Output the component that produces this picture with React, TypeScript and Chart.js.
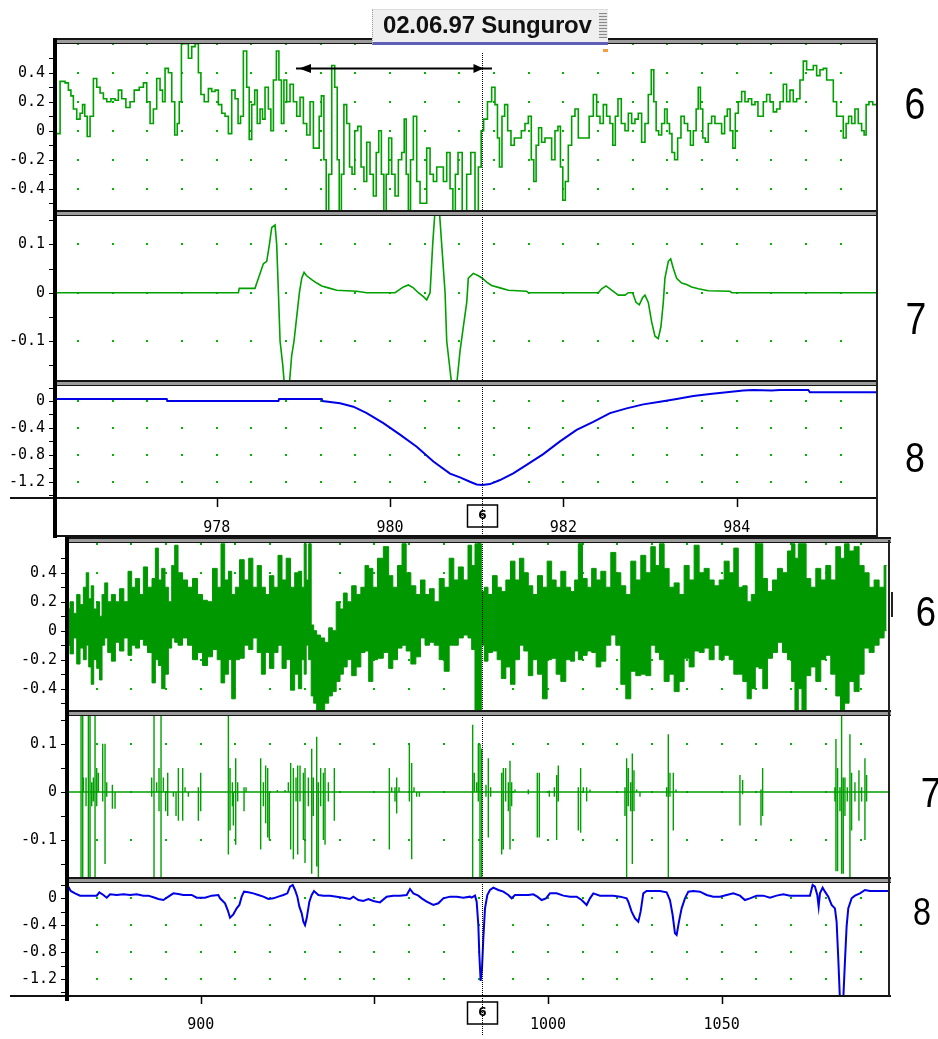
import React, { useEffect, useRef } from 'react';
import { Chart, registerables } from 'chart.js';

Chart.register(...registerables);

const W = 938;
const GREEN = '#00a000';
const NOISE_GREEN = '#009800';
const BLUE = '#0000e6';
const DOT = '#00b400';

// ---------------- DATA ----------------
// Top group: time axis (s), 976.16 .. 985.62
const topXTicks = [978, 980, 982, 984];
const topDotX = [976.4, 976.8, 977.2, 977.6, 978.0, 978.4, 978.8, 979.2, 979.6, 980.0, 980.4, 980.8, 981.2, 981.6, 982.0, 982.4, 982.8, 983.2, 983.6, 984.0, 984.4, 984.8, 985.2];
const cursorTop = 981.06;
const arrowSpan = [978.915, 981.176];
const arrowLevel = 0.43;

// trace 6 (zoomed)
const trace6Zoom: [number, number][] = [
  [976.154, -0.02], [976.231, 0.34], [976.269, 0.33], [976.308, 0.28], [976.327, 0.24], [976.365, 0.15], [976.404, 0.08], [976.442, 0.12],
  [976.462, 0.18], [976.492, 0.1], [976.519, -0.04], [976.558, 0.1], [976.596, 0.36], [976.635, 0.3], [976.673, 0.26], [976.712, 0.22],
  [976.75, 0.2], [976.808, 0.22], [976.846, 0.21], [976.885, 0.28], [976.923, 0.22], [976.981, 0.16], [977.019, 0.2], [977.077, 0.28],
  [977.135, 0.3], [977.173, 0.33], [977.212, 0.2], [977.25, 0.05], [977.288, 0.15], [977.327, 0.36], [977.365, 0.28], [977.385, 0.2],
  [977.423, 0.43], [977.462, 0.4], [977.5, 0.2], [977.531, -0.03], [977.558, 0.05], [977.577, 0.2], [977.608, 0.6], [977.654, 0.6],
  [977.692, 0.5], [977.731, 0.58], [977.769, 0.6], [977.808, 0.4], [977.827, 0.25], [977.885, 0.2], [977.923, 0.29], [977.962, 0.27],
  [978.0, 0.28], [978.038, 0.18], [978.077, 0.12], [978.115, 0.1], [978.154, -0.02], [978.192, 0.28], [978.231, 0.22], [978.262, 0.05],
  [978.288, 0.1], [978.327, 0.55], [978.365, 0.3], [978.385, -0.06], [978.423, 0.18], [978.454, 0.28], [978.481, 0.05], [978.519, 0.15],
  [978.538, 0.08], [978.577, 0.3], [978.615, 0.15], [978.635, 0.0], [978.673, 0.35], [978.704, 0.55], [978.731, 0.35], [978.762, 0.05],
  [978.788, 0.35], [978.827, 0.2], [978.865, 0.32], [978.904, 0.2], [978.942, 0.1], [978.981, 0.23], [979.019, 0.05], [979.058, -0.03],
  [979.096, 0.2], [979.135, -0.12], [979.173, -0.12], [979.192, 0.1], [979.223, 0.24], [979.25, -0.2], [979.277, -0.56], [979.308, -0.3],
  [979.346, 0.45], [979.377, 0.3], [979.404, -0.2], [979.423, -0.56], [979.454, -0.3], [979.481, 0.18], [979.519, 0.05], [979.546, -0.25],
  [979.577, -0.3], [979.608, 0.0], [979.646, 0.03], [979.685, -0.25], [979.712, -0.35], [979.75, -0.08], [979.788, -0.3], [979.827, -0.45],
  [979.854, -0.15], [979.885, 0.0], [979.915, -0.3], [979.942, -0.56], [979.969, -0.3], [980.0, -0.05], [980.038, -0.3], [980.077, -0.45],
  [980.115, -0.2], [980.154, -0.15], [980.173, 0.08], [980.2, -0.3], [980.223, -0.55], [980.25, -0.2], [980.288, 0.1], [980.327, -0.35],
  [980.365, -0.5], [980.404, -0.5], [980.442, -0.12], [980.481, -0.3], [980.519, -0.35], [980.558, -0.25], [980.596, -0.25], [980.635, -0.35],
  [980.673, -0.15], [980.712, -0.4], [980.738, -0.56], [980.769, -0.3], [980.8, -0.15], [980.865, -0.56], [980.903, -0.3], [980.961, -0.15],
  [981.0, -0.56], [981.038, -0.25], [981.065, 0.0], [981.095, 0.08], [981.153, 0.2], [981.192, 0.3], [981.23, 0.18], [981.249, -0.05],
  [981.276, -0.25], [981.307, 0.1], [981.338, 0.18], [981.376, 0.0], [981.415, -0.1], [981.453, -0.05], [981.492, -0.05], [981.538, 0.0],
  [981.576, 0.05], [981.615, 0.1], [981.645, -0.2], [981.672, -0.35], [981.699, -0.1], [981.73, 0.02], [981.768, -0.08], [981.807, -0.05],
  [981.845, -0.05], [981.884, -0.2], [981.922, 0.0], [981.953, 0.03], [981.98, -0.25], [982.007, -0.48], [982.038, -0.35], [982.076, -0.1],
  [982.115, 0.1], [982.153, 0.15], [982.192, -0.05], [982.23, -0.05], [982.269, -0.05], [982.326, 0.1], [982.365, 0.25], [982.403, 0.1],
  [982.442, 0.05], [982.48, 0.18], [982.518, 0.1], [982.557, 0.05], [982.584, -0.1], [982.615, 0.1], [982.645, 0.22], [982.692, 0.05],
  [982.73, 0.0], [982.769, 0.12], [982.807, 0.05], [982.845, 0.08], [982.884, 0.12], [982.922, -0.08], [982.961, 0.05], [982.999, 0.25],
  [983.03, 0.42], [983.057, 0.2], [983.084, 0.0], [983.115, -0.03], [983.153, 0.05], [983.184, 0.15], [983.211, 0.05], [983.238, -0.02],
  [983.268, -0.15], [983.299, -0.2], [983.338, -0.05], [983.376, 0.1], [983.415, 0.05], [983.453, 0.0], [983.48, -0.1], [983.519, 0.0],
  [983.545, 0.15], [983.568, 0.3], [983.595, 0.15], [983.622, -0.05], [983.653, -0.08], [983.691, 0.05], [983.73, 0.1], [983.768, 0.05],
  [983.807, 0.05], [983.845, -0.02], [983.876, 0.1], [983.907, 0.15], [983.942, 0.0], [983.969, -0.12], [983.999, 0.12], [984.038, 0.2],
  [984.076, 0.27], [984.115, 0.2], [984.153, 0.22], [984.192, 0.18], [984.23, 0.2], [984.261, 0.1], [984.288, 0.1], [984.326, 0.2],
  [984.365, 0.25], [984.403, 0.2], [984.442, 0.13], [984.48, 0.15], [984.519, 0.2], [984.557, 0.32], [984.595, 0.2], [984.634, 0.28],
  [984.672, 0.2], [984.711, 0.22], [984.749, 0.35], [984.788, 0.48], [984.826, 0.42], [984.865, 0.42], [984.903, 0.45], [984.942, 0.38],
  [984.98, 0.42], [985.019, 0.43], [985.057, 0.35], [985.096, 0.35], [985.134, 0.2], [985.172, 0.1], [985.211, 0.1], [985.249, -0.05],
  [985.276, 0.05], [985.307, 0.1], [985.345, 0.05], [985.384, 0.15], [985.422, 0.05], [985.461, 0.0], [985.48, -0.03], [985.507, 0.18],
  [985.545, 0.2], [985.595, 0.18], [985.62, 0.18],
];

// trace 7 (zoomed)
const trace7Zoom: [number, number][] = [
  [976.15, 0], [978.25, 0], [978.26, 0.009], [978.442, 0.009], [978.462, 0.02], [978.5, 0.04], [978.538, 0.06], [978.577, 0.065],
  [978.608, 0.1], [978.635, 0.135], [978.673, 0.14], [978.692, 0.1], [978.712, 0.0], [978.731, -0.1], [978.762, -0.15], [978.781, -0.19],
  [978.838, -0.19], [978.865, -0.13], [978.892, -0.1], [978.923, -0.05], [978.954, 0.0], [978.981, 0.03], [979.008, 0.042], [979.038, 0.035],
  [979.096, 0.027], [979.154, 0.02], [979.212, 0.014], [979.288, 0.01], [979.385, 0.005], [979.615, 0.003], [979.731, 0.0], [980.058, 0.0],
  [980.096, 0.005], [980.154, 0.012], [980.212, 0.016], [980.269, 0.01], [980.327, 0.0], [980.385, -0.008], [980.423, -0.015], [980.462, 0.0],
  [980.492, 0.1], [980.519, 0.17], [980.569, 0.17], [980.596, 0.1], [980.635, 0.0], [980.654, -0.1], [980.692, -0.16], [980.712, -0.19],
  [980.769, -0.19], [980.808, -0.12], [980.846, -0.07], [980.885, -0.02], [980.903, 0.03], [980.961, 0.04], [981.019, 0.035], [981.065, 0.03],
  [981.115, 0.022], [981.172, 0.015], [981.269, 0.01], [981.365, 0.005], [981.576, 0.003], [981.595, 0.0], [982.403, 0.0], [982.442, 0.008],
  [982.492, 0.014], [982.538, 0.008], [982.595, 0.0], [982.634, -0.005], [982.711, -0.005], [982.749, 0.0], [982.799, 0.0], [982.838, -0.02],
  [982.876, -0.025], [982.915, -0.01], [982.942, -0.005], [982.98, -0.02], [983.018, -0.06], [983.057, -0.09], [983.095, -0.095], [983.126, -0.07],
  [983.153, -0.02], [983.172, 0.03], [983.211, 0.065], [983.238, 0.07], [983.269, 0.05], [983.307, 0.03], [983.365, 0.02], [983.422, 0.017],
  [983.48, 0.012], [983.557, 0.008], [983.672, 0.004], [983.922, 0.003], [983.942, 0.0], [985.62, 0.0],
];

// trace 8 (zoomed)
const trace8Zoom: [number, number][] = [
  [976.15, 0.03], [977.423, 0.03], [977.43, 0.0], [978.712, 0.0], [978.72, 0.03], [979.212, 0.03], [979.22, 0.0], [979.423, -0.035],
  [979.577, -0.085], [979.731, -0.18], [979.923, -0.33], [980.115, -0.5], [980.308, -0.68], [980.5, -0.9], [980.692, -1.08], [980.807, -1.135],
  [980.922, -1.2], [980.999, -1.24], [981.065, -1.25], [981.153, -1.235], [981.269, -1.175], [981.422, -1.075], [981.576, -0.95], [981.768, -0.79],
  [981.961, -0.6], [982.153, -0.43], [982.345, -0.31], [982.538, -0.18], [982.73, -0.11], [982.922, -0.05], [983.115, -0.01], [983.307, 0.03],
  [983.5, 0.075], [983.692, 0.105], [983.884, 0.13], [984.076, 0.155], [984.192, 0.165], [984.403, 0.155], [984.499, 0.165], [984.826, 0.165],
  [984.845, 0.13], [985.62, 0.13],
];

// Bottom group: time axis (s), 862 .. 1098
const bottomXTicks = [900, 950, 1000, 1050];
const bottomHiddenLabels = [950];
const bottomDotX = [870, 880, 890, 900, 910, 920, 930, 940, 950, 960, 970, 980, 990, 1000, 1010, 1020, 1030, 1040, 1050, 1060, 1070, 1080, 1090];
const cursorBottom = 981.0;

// trace 6 (overview): [time, upper envelope, lower envelope]
const trace6Wide: [number, number, number][] = [
  [861.9, 0.15, -0.1], [862.86, 0.2, -0.16], [863.82, 0.12, -0.05], [864.78, 0.25, -0.23], [865.74, 0.18, -0.12], [866.7, 0.3, -0.2],
  [867.37, 0.4, -0.1], [868.14, 0.22, -0.25], [868.81, 0.31, -0.37], [869.58, 0.15, -0.2], [870.54, 0.2, -0.26], [871.21, 0.1, -0.34],
  [871.98, 0.25, -0.1], [872.75, 0.33, -0.05], [873.71, 0.2, -0.15], [874.86, 0.25, -0.21], [876.01, 0.2, -0.08], [877.26, 0.29, -0.14],
  [878.5, 0.2, -0.05], [879.65, 0.41, -0.17], [880.61, 0.3, -0.1], [881.77, 0.36, -0.12], [883.01, 0.25, -0.06], [883.97, 0.44, -0.1],
  [885.41, 0.3, -0.15], [886.56, 0.36, -0.36], [887.33, 0.57, -0.2], [888.29, 0.35, -0.24], [889.25, 0.43, -0.4], [890.21, 0.3, -0.3],
  [891.17, 0.2, -0.12], [892.13, 0.45, -0.05], [892.9, 0.59, -0.08], [894.05, 0.4, -0.1], [895.49, 0.35, -0.05], [896.93, 0.3, -0.1],
  [898.37, 0.36, -0.2], [899.81, 0.25, -0.15], [901.25, 0.21, -0.24], [902.69, 0.2, -0.18], [904.13, 0.43, -0.13], [905.37, 0.3, -0.2],
  [906.33, 0.6, -0.36], [907.49, 0.35, -0.3], [908.45, 0.41, -0.2], [909.4, 0.25, -0.47], [910.56, 0.3, -0.2], [911.81, 0.49, -0.19],
  [913.24, 0.35, -0.1], [914.4, 0.5, -0.13], [915.64, 0.3, -0.05], [916.89, 0.45, -0.15], [918.04, 0.3, -0.3], [919.19, 0.25, -0.15],
  [920.44, 0.38, -0.26], [921.69, 0.3, -0.15], [922.84, 0.52, -0.1], [923.99, 0.35, -0.26], [925.24, 0.5, -0.2], [926.49, 0.3, -0.41],
  [927.64, 0.4, -0.3], [928.6, 0.41, -0.4], [929.56, 0.3, -0.2], [930.04, 0.6, -0.3], [930.71, 0.35, -0.1], [931.48, 0.6, -0.2],
  [932.15, 0.04, -0.45], [932.92, 0.0, -0.5], [933.88, -0.03, -0.55], [935.12, -0.05, -0.55], [936.28, -0.08, -0.5], [937.43, 0.02, -0.45],
  [938.39, 0.0, -0.42], [939.64, 0.2, -0.35], [940.6, 0.15, -0.3], [941.56, 0.26, -0.25], [942.8, 0.2, -0.2], [944.15, 0.31, -0.31],
  [945.39, 0.25, -0.25], [946.83, 0.3, -0.15], [947.79, 0.45, -0.14], [948.94, 0.43, -0.35], [950.19, 0.3, -0.2], [951.63, 0.5, -0.19],
  [953.55, 0.58, -0.15], [954.7, 0.38, -0.26], [955.95, 0.3, -0.2], [957.39, 0.45, -0.12], [958.54, 0.6, -0.1], [959.79, 0.4, -0.14],
  [961.23, 0.31, -0.23], [962.67, 0.25, -0.18], [963.92, 0.35, -0.05], [965.26, 0.25, -0.1], [966.51, 0.29, -0.08], [967.95, 0.2, -0.1],
  [969.39, 0.36, -0.2], [970.83, 0.3, -0.28], [972.26, 0.5, -0.1], [973.51, 0.35, -0.1], [974.85, 0.44, -0.05], [976.39, 0.35, -0.03],
  [977.54, 0.59, -0.05], [978.5, 0.45, -0.13], [979.46, 0.6, -0.55], [980.42, 0.6, -0.55], [981.19, 0.27, -0.1], [982.15, 0.3, -0.21],
  [983.3, 0.25, -0.15], [984.74, 0.38, -0.14], [985.98, 0.3, -0.2], [987.14, 0.27, -0.33], [988.58, 0.35, -0.25], [989.82, 0.48, -0.37],
  [991.17, 0.35, -0.2], [992.41, 0.5, -0.1], [993.66, 0.4, -0.14], [995.0, 0.31, -0.31], [996.25, 0.25, -0.2], [997.69, 0.38, -0.3],
  [999.13, 0.3, -0.47], [1000.38, 0.48, -0.2], [1001.72, 0.35, -0.19], [1002.97, 0.3, -0.3], [1004.41, 0.41, -0.35], [1005.85, 0.3, -0.2],
  [1007.1, 0.27, -0.21], [1008.25, 0.35, -0.14], [1009.21, 0.6, -0.2], [1010.65, 0.36, -0.17], [1011.9, 0.3, -0.14], [1013.24, 0.43, -0.15],
  [1014.49, 0.35, -0.25], [1015.93, 0.41, -0.21], [1017.37, 0.3, -0.1], [1018.8, 0.54, -0.03], [1020.25, 0.4, -0.1], [1021.68, 0.31, -0.37],
  [1023.12, 0.25, -0.47], [1024.56, 0.48, -0.28], [1026.0, 0.35, -0.31], [1027.44, 0.52, -0.3], [1028.88, 0.4, -0.31], [1030.32, 0.58, -0.1],
  [1031.47, 0.45, -0.15], [1032.72, 0.6, -0.2], [1034.16, 0.43, -0.35], [1035.6, 0.3, -0.3], [1037.04, 0.33, -0.42], [1038.48, 0.25, -0.35],
  [1039.92, 0.45, -0.19], [1041.36, 0.35, -0.25], [1042.8, 0.59, -0.14], [1044.24, 0.4, -0.15], [1045.68, 0.43, -0.12], [1047.12, 0.35, -0.2],
  [1048.56, 0.31, -0.1], [1050.0, 0.35, -0.2], [1051.44, 0.48, -0.17], [1052.88, 0.4, -0.2], [1054.12, 0.57, -0.3], [1055.46, 0.3, -0.3],
  [1056.71, 0.31, -0.35], [1057.96, 0.2, -0.47], [1059.11, 0.25, -0.4], [1060.27, 0.6, -0.25], [1061.22, 0.6, -0.26], [1062.47, 0.36, -0.4],
  [1063.91, 0.27, -0.19], [1065.35, 0.35, -0.15], [1066.79, 0.43, -0.08], [1068.23, 0.4, -0.15], [1069.67, 0.55, -0.2], [1070.63, 0.6, -0.35],
  [1071.59, 0.5, -0.55], [1072.55, 0.6, -0.4], [1073.7, 0.6, -0.55], [1074.95, 0.36, -0.31], [1076.39, 0.3, -0.25], [1077.83, 0.43, -0.35],
  [1079.27, 0.35, -0.2], [1080.7, 0.45, -0.17], [1082.14, 0.35, -0.3], [1083.6, 0.58, -0.45], [1084.83, 0.5, -0.55], [1085.98, 0.6, -0.5],
  [1087.42, 0.55, -0.35], [1088.86, 0.58, -0.42], [1090.3, 0.45, -0.3], [1091.74, 0.4, -0.12], [1093.18, 0.3, -0.15], [1094.62, 0.35, -0.1],
  [1096.06, 0.3, -0.05], [1097.5, 0.45, 0.0],
];

// trace 7 (overview): spikes [time, up, down]
const trace7Spikes: [number, number, number][] = [
  [865.55, 0.2, -0.2], [866.03, 0.2, -0.2], [866.22, 0.03, 0], [866.99, 0.03, -0.03], [867.66, 0.2, -0.2], [868.14, 0.2, -0.2],
  [868.62, 0.02, -0.03], [869.1, 0.03, -0.02], [869.58, 0.2, -0.2], [870.06, 0.05, -0.03], [870.54, 0.04, 0], [871.79, 0.1, -0.02],
  [872.46, 0.1, -0.15], [872.94, 0.02, -0.01], [874.57, 0.015, -0.035], [875.34, 0, -0.035], [885.89, 0.03, -0.01], [886.56, 0.2, -0.2],
  [887.33, 0.02, 0], [888.0, 0.05, -0.04], [888.58, 0.2, -0.2], [889.25, 0.03, 0], [889.92, 0, -0.04], [890.5, 0.04, -0.05],
  [892.13, 0, -0.01], [892.9, 0, -0.05], [893.57, 0.05, -0.06], [894.82, 0.05, -0.06], [895.49, 0.01, 0], [896.45, 0, -0.01],
  [899.33, 0.01, -0.06], [900.0, 0.04, -0.04], [907.97, 0.2, -0.13], [908.45, 0.05, -0.08], [909.12, 0.02, -0.03], [909.4, 0, -0.07],
  [910.08, 0.07, -0.11], [910.65, 0.02, -0.02], [912.48, 0.01, -0.04], [913.05, 0.01, 0], [917.27, 0.07, -0.12], [918.04, 0.02, -0.03],
  [918.71, 0.055, -0.065], [919.29, 0.05, -0.095], [919.77, 0, -0.1], [922.07, 0.004, 0], [924.28, 0.004, 0], [925.24, 0.02, 0],
  [925.91, 0.06, -0.12], [926.68, 0.05, -0.14], [927.45, 0.03, -0.02], [927.93, 0.055, -0.13], [928.6, 0.055, -0.02], [929.56, 0.04, -0.1],
  [930.04, 0.05, -0.148], [931.0, 0.03, -0.03], [931.96, 0.09, -0.17], [932.44, 0.03, -0.05], [933.4, 0.115, -0.155], [933.88, 0.02, -0.2],
  [934.55, 0.05, -0.03], [935.32, 0.04, -0.1], [935.8, 0.05, -0.11], [936.76, 0.02, -0.02], [938.48, 0.05, -0.06], [954.32, 0.05, -0.12],
  [954.99, 0.01, 0], [955.95, 0.01, -0.02], [956.43, 0.03, -0.045], [957.1, 0.01, 0], [960.08, 0.1, -0.02], [960.75, 0.06, -0.14],
  [961.42, 0.01, 0], [962.19, 0, -0.01], [962.96, 0, -0.01], [978.31, 0.14, -0.2], [978.79, 0.04, 0], [979.46, 0.02, 0],
  [979.94, 0.1, -0.02], [980.42, 0.1, -0.2], [980.9, 0.09, -0.2], [982.15, 0.015, -0.01], [982.82, 0.07, -0.095], [983.49, 0.01, -0.01],
  [986.66, 0.04, -0.13], [987.14, 0.05, -0.12], [987.81, 0.05, -0.02], [988.58, 0.02, -0.04], [989.06, 0.065, -0.12], [989.54, 0.02, -0.03],
  [990.5, 0.005, 0], [994.33, 0.005, -0.005], [996.92, 0.04, -0.095], [997.5, 0.04, -0.095], [1000.38, 0.003, -0.01], [1001.82, 0.01, -0.01],
  [1002.49, 0.035, -0.1], [1002.97, 0.055, -0.02], [1008.73, 0.01, -0.08], [1009.4, 0.05, -0.085], [1010.17, 0.01, 0], [1011.13, 0.01, -0.02],
  [1012.09, 0.005, 0], [1022.16, 0.01, -0.05], [1022.64, 0.07, -0.2], [1023.12, 0.05, -0.03], [1023.8, 0.02, -0.04], [1024.28, 0.08, -0.15],
  [1024.76, 0.045, -0.04], [1025.52, 0.005, 0], [1026.48, 0, -0.01], [1034.16, 0.01, -0.01], [1034.64, 0.12, -0.2], [1035.12, 0.04, -0.01],
  [1036.08, 0.04, -0.08], [1036.85, 0.005, 0], [1055.27, 0.035, -0.07], [1056.04, 0.025, -0.005], [1061.32, 0.005, -0.07], [1061.8, 0.05, -0.05],
  [1082.62, 0.01, -0.02], [1082.91, 0.11, -0.165], [1083.39, 0.05, -0.165], [1084.06, 0.01, -0.04], [1084.54, 0.2, -0.17], [1085.02, 0.03, -0.17],
  [1085.5, 0.03, -0.05], [1086.17, 0.01, -0.02], [1086.94, 0.12, -0.2], [1087.42, 0.04, -0.08], [1088.38, 0.02, -0.02], [1089.53, 0.045, -0.06],
  [1090.3, 0.01, -0.02], [1091.26, 0.07, -0.1], [1091.74, 0.035, -0.02],
];

// trace 8 (overview)
const trace8Wide: [number, number][] = [
  [861.9, 0.174], [862.57, 0.109], [863.82, 0.074], [865.26, 0.04], [867.18, 0.04], [870.06, 0.04], [870.83, 0.089], [871.98, 0.05],
  [872.94, 0.01], [873.9, 0.059], [875.82, 0.05], [877.74, 0.059], [879.65, 0.05], [881.57, 0.059], [883.49, 0.04], [884.93, 0.04],
  [886.37, 0.015], [887.81, -0.01], [889.25, -0.025], [890.69, 0.025], [892.13, 0.074], [893.57, 0.064], [895.01, 0.05], [897.41, 0.05],
  [898.85, 0.01], [901.25, 0.01], [903.17, 0.04], [905.09, 0.05], [905.57, 0], [907.01, -0.074], [907.77, -0.174], [908.45, -0.288],
  [909.4, -0.238], [910.36, -0.149], [911.13, -0.099], [911.8, 0.025], [912.48, 0.099], [913.72, 0.089], [915.16, 0.074], [916.6, 0.05],
  [918.04, 0.025], [919.48, -0.01], [920.92, 0], [922.36, 0.025], [923.8, 0.05], [924.95, 0.074], [925.72, 0.174], [926.49, 0.198],
  [927.16, 0.124], [927.83, 0.025], [928.41, -0.124], [929.08, -0.223], [929.56, -0.347], [930.04, -0.397], [930.52, -0.297], [931.29, -0.05],
  [931.96, 0.05], [932.63, 0.109], [933.88, 0.05], [935.32, 0.04], [937.24, 0.04], [939.16, 0.025], [941.07, 0.01], [942.99, -0.01],
  [943.95, 0.025], [945.39, -0.025], [946.83, -0.04], [948.27, -0.01], [949.71, -0.04], [951.63, -0.06], [953.55, 0.025], [955.47, 0.04],
  [957.39, 0.04], [959.31, 0.05], [960.27, 0.139], [961.23, 0.074], [962.67, 0.04], [963.63, 0], [965.07, -0.05], [966.99, -0.099],
  [968.43, -0.074], [969.87, 0], [971.79, 0.025], [973.7, 0.025], [975.62, 0.01], [977.54, 0.025], [978.02, 0.01], [978.98, 0.04],
  [979.46, -0.05], [979.94, -0.397], [980.23, -0.843], [980.61, -1.23], [981.0, -1.041], [981.38, -0.595], [981.86, -0.149], [982.53, 0.05],
  [983.3, 0.124], [984.26, 0.159], [985.7, 0.124], [987.14, 0.099], [988.58, 0.05], [989.54, 0], [990.5, 0.05], [992.41, 0.05],
  [994.33, 0.05], [995.77, 0.059], [996.92, 0.025], [998.17, -0.025], [999.42, 0], [1000.57, 0.074], [1002.49, 0.074], [1004.41, 0.04],
  [1006.33, 0.025], [1008.25, 0.025], [1009.69, -0.025], [1011.13, -0.099], [1012.09, 0], [1013.05, 0.074], [1014.97, 0.04], [1016.89, 0.04],
  [1018.8, 0.04], [1020.73, 0.025], [1022.64, 0], [1023.12, -0.05], [1024.08, -0.198], [1025.04, -0.297], [1026.0, -0.347], [1026.67, -0.198],
  [1027.44, 0.074], [1028.4, 0.109], [1030.32, 0.109], [1032.24, 0.109], [1034.16, 0.089], [1035.12, -0.025], [1035.89, -0.248], [1036.56, -0.521],
  [1037.04, -0.545], [1037.71, -0.347], [1038.48, -0.149], [1039.44, 0], [1040.4, 0.099], [1041.84, 0.109], [1043.76, 0.099], [1045.68, 0.05],
  [1047.6, 0.025], [1049.52, 0.025], [1051.44, 0.05], [1053.36, 0.074], [1055.27, 0.04], [1056.71, -0.025], [1058.15, 0], [1060.07, 0.04],
  [1061.99, 0.04], [1063.91, 0.01], [1065.83, 0.04], [1067.75, 0.059], [1069.67, 0.04], [1071.59, 0.04], [1073.51, 0.04], [1075.43, 0.04],
  [1076.2, 0.198], [1076.87, 0.174], [1077.54, 0.05], [1077.93, -0.124], [1078.31, 0.074], [1079.08, 0.159], [1079.75, 0.099], [1080.71, 0.025],
  [1081.67, -0.099], [1082.62, -0.149], [1083.1, -0.347], [1083.58, -0.892], [1084.06, -1.5], [1085.02, -1.5], [1085.5, -0.942], [1085.98, -0.421],
  [1086.46, -0.149], [1087.42, 0], [1088.38, 0.04], [1089.82, 0.074], [1091.26, 0.124], [1092.7, 0.109], [1095.58, 0.109], [1097.98, 0.109],
];

// y ticks
const ticks6 = [0.4, 0.2, 0, -0.2, -0.4];
const ticks7 = [0.1, 0, -0.1];
const ticks8 = [0, -0.4, -0.8, -1.2];
const minor6 = [0.5, 0.4, 0.3, 0.2, 0.1, 0, -0.1, -0.2, -0.3, -0.4, -0.5];
const minor7 = [0.15, 0.1, 0.05, 0, -0.05, -0.1, -0.15];
const minor8 = [0.2, 0, -0.2, -0.4, -0.6, -0.8, -1.0, -1.2, -1.4];
const dots6 = [0.6, 0.4, 0.2, 0, -0.2, -0.4];
const dots7 = [0.1, 0, -0.1];
const dots8 = [0, -0.4, -0.8, -1.2];

// ---------------- CHART HELPERS ----------------
const fmt = (v: number) => (v === 0 ? '0' : String(v));

const decorPlugin = {
  id: 'decor',
  beforeDatasetsDraw(chart: any, _a: any, o: any) {
    const { ctx } = chart;
    const xs = chart.scales.x;
    const ys = chart.scales.y;
    ctx.save();
    ctx.fillStyle = DOT;
    o.dotX.forEach((dx: number) =>
      o.dotY.forEach((dy: number) => {
        const px = Math.round(xs.getPixelForValue(dx));
        const py = Math.round(ys.getPixelForValue(dy));
        ctx.fillRect(px - 1, py - 1, 2, 2);
      })
    );
    ctx.restore();
  },
  afterDraw(chart: any, _a: any, o: any) {
    const { ctx, chartArea } = chart;
    const xs = chart.scales.x;
    const ys = chart.scales.y;
    ctx.save();
    ctx.strokeStyle = '#000';
    ctx.lineWidth = 1;
    o.minor.forEach((v: number) => {
      const py = Math.round(ys.getPixelForValue(v)) + 0.5;
      ctx.beginPath();
      ctx.moveTo(chartArea.left - 8, py);
      ctx.lineTo(chartArea.left - 4, py);
      ctx.stroke();
    });
    if (o.axisTicks) {
      ctx.lineWidth = 1.5;
      o.axisTicks.forEach((v: number) => {
        const px = Math.round(xs.getPixelForValue(v)) + 0.5;
        ctx.beginPath();
        ctx.moveTo(px, chartArea.bottom);
        ctx.lineTo(px, chartArea.bottom + 9);
        ctx.stroke();
      });
    }
    const cx = Math.round(xs.getPixelForValue(o.cursor)) + 0.5;
    if (o.box) {
      ctx.setLineDash([]);
      ctx.lineWidth = 1.5;
      ctx.fillStyle = '#fff';
      ctx.fillRect(cx - 15, chartArea.bottom + 7, 30, 22);
      ctx.strokeRect(cx - 15, chartArea.bottom + 7, 30, 22);
      ctx.fillStyle = '#000';
      ctx.font = 'bold 12px "DejaVu Sans"';
      ctx.textAlign = 'center';
      ctx.textBaseline = 'middle';
      ctx.fillText('6', cx, chartArea.bottom + 18);
    }
    ctx.lineWidth = 1;
    ctx.setLineDash([1, 1]);
    ctx.beginPath();
    ctx.moveTo(cx, o.cursorStart);
    ctx.lineTo(cx, o.cursorEnd ?? chart.height);
    ctx.stroke();
    ctx.setLineDash([]);
    if (o.arrow) {
      const ay = Math.round(ys.getPixelForValue(o.arrow.level)) + 0.5;
      const x1 = xs.getPixelForValue(o.arrow.span[0]);
      const x2 = xs.getPixelForValue(o.arrow.span[1]);
      ctx.lineWidth = 2;
      ctx.beginPath();
      ctx.moveTo(x1, ay);
      ctx.lineTo(x2, ay);
      ctx.stroke();
      ctx.fillStyle = '#000';
      ctx.beginPath();
      ctx.moveTo(x1 + 3, ay);
      ctx.lineTo(x1 + 15, ay - 4.5);
      ctx.lineTo(x1 + 15, ay + 4.5);
      ctx.closePath();
      ctx.fill();
      ctx.beginPath();
      ctx.moveTo(cx + 1, ay);
      ctx.lineTo(cx - 9, ay - 4.5);
      ctx.lineTo(cx - 9, ay + 4.5);
      ctx.closePath();
      ctx.fill();
    }
    ctx.restore();
  },
};

type PanelDef = {
  canvasTop: number;
  canvasBottom: number;
  plotLeft: number;
  plotRight: number;
  plotTop: number;
  plotBottom: number;
  axisH: number;
  xMin: number;
  xMax: number;
  yMin: number;
  yMax: number;
  yTicks: number[];
  xTicks?: number[];
  hiddenX?: number[];
  decor: any;
  datasets: any[];
};

const Y_FONT = { family: '"DejaVu Sans Mono", monospace', size: 15 };
const X_FONT = { family: '"DejaVu Sans Mono", monospace', size: 15 };

function Panel({ def }: { def: PanelDef }) {
  const ref = useRef<HTMLCanvasElement | null>(null);
  useEffect(() => {
    if (!ref.current) return;
    const p = def;
    const chart = new Chart(ref.current, {
      type: 'line',
      data: { datasets: p.datasets },
      options: {
        animation: false,
        responsive: false,
        maintainAspectRatio: false,
        events: [],
        layout: {
          autoPadding: false,
          padding: {
            left: 0,
            right: W - p.plotRight,
            top: p.plotTop - p.canvasTop,
            bottom: p.canvasBottom - p.plotBottom - p.axisH,
          },
        },
        elements: { point: { radius: 0 }, line: { tension: 0 } },
        plugins: {
          legend: { display: false },
          tooltip: { enabled: false },
          decor: p.decor,
        } as any,
        scales: {
          x: {
            type: 'linear',
            min: p.xMin,
            max: p.xMax,
            display: !!p.xTicks,
            grid: { display: false, drawTicks: false },
            border: { display: false },
            afterBuildTicks: (ax: any) => {
              ax.ticks = (p.xTicks || []).map((v) => ({ value: v }));
            },
            afterFit: (ax: any) => {
              ax.height = p.axisH;
              ax.paddingLeft = 0;
              ax.paddingRight = 0;
              ax.paddingTop = 0;
              ax.paddingBottom = 0;
            },
            ticks: {
              autoSkip: false,
              maxRotation: 0,
              padding: 21,
              color: '#000',
              font: X_FONT,
              callback: (v: any) => ((p.hiddenX || []).includes(v) ? '' : String(v)),
            },
          },
          y: {
            type: 'linear',
            min: p.yMin,
            max: p.yMax,
            grid: { display: false, drawTicks: false },
            border: { display: false },
            afterBuildTicks: (ax: any) => {
              ax.ticks = p.yTicks.map((v) => ({ value: v }));
            },
            afterFit: (ax: any) => {
              ax.width = p.plotLeft;
              ax.paddingTop = 0;
              ax.paddingBottom = 0;
              ax.paddingLeft = 0;
              ax.paddingRight = 0;
            },
            ticks: {
              autoSkip: false,
              padding: 12,
              color: '#000',
              font: Y_FONT,
              callback: (v: any) => fmt(v),
            },
          },
        },
      } as any,
      plugins: [decorPlugin as any],
    });
    return () => chart.destroy();
  }, [def]);
  return (
    <canvas
      ref={ref}
      width={W}
      height={def.canvasBottom - def.canvasTop}
      style={{ position: 'absolute', left: 0, top: def.canvasTop, width: W, height: def.canvasBottom - def.canvasTop }}
    />
  );
}

const pts = (a: [number, number][]) => a.map(([x, y]) => ({ x, y }));
const spikeLine = (a: [number, number, number][], x0: number, x1: number) => {
  const out: { x: number; y: number }[] = [{ x: x0, y: 0 }];
  a.forEach(([t, up, dn]) => {
    out.push({ x: t, y: 0 }, { x: t, y: up }, { x: t, y: dn }, { x: t, y: 0 });
  });
  out.push({ x: x1, y: 0 });
  return out;
};

const TOP_L = 57, TOP_R = 877, TOP_XMIN = 976.157, TOP_XMAX = 985.619;
const BOT_L = 69, BOT_R = 888, BOT_XMIN = 862.08, BOT_XMAX = 1097.9;

const panels: PanelDef[] = [
  {
    canvasTop: 36, canvasBottom: 213, plotLeft: TOP_L, plotRight: TOP_R, plotTop: 44, plotBottom: 210, axisH: 0,
    xMin: TOP_XMIN, xMax: TOP_XMAX, yMin: -0.547, yMax: 0.598, yTicks: ticks6,
    decor: { dotX: topDotX, dotY: dots6, minor: minor6, cursor: cursorTop, cursorStart: 17, arrow: { span: arrowSpan, level: arrowLevel } },
    datasets: [{ data: pts(trace6Zoom), borderColor: GREEN, borderWidth: 1.6, fill: false, stepped: 'middle' }],
  },
  {
    canvasTop: 213, canvasBottom: 383, plotLeft: TOP_L, plotRight: TOP_R, plotTop: 216, plotBottom: 380, axisH: 0,
    xMin: TOP_XMIN, xMax: TOP_XMAX, yMin: -0.1807, yMax: 0.1588, yTicks: ticks7,
    decor: { dotX: topDotX, dotY: dots7, minor: minor7, cursor: cursorTop, cursorStart: 0 },
    datasets: [{ data: pts(trace7Zoom), borderColor: GREEN, borderWidth: 1.6, fill: false }],
  },
  {
    canvasTop: 383, canvasBottom: 537, plotLeft: TOP_L, plotRight: TOP_R, plotTop: 386, plotBottom: 498, axisH: 39,
    xMin: TOP_XMIN, xMax: TOP_XMAX, yMin: -1.442, yMax: 0.223, yTicks: ticks8, xTicks: topXTicks,
    decor: { dotX: topDotX, dotY: dots8, minor: minor8, cursor: cursorTop, cursorStart: 0, axisTicks: topXTicks, box: true },
    datasets: [{ data: pts(trace8Zoom), borderColor: BLUE, borderWidth: 2, fill: false }],
  },
  {
    canvasTop: 537, canvasBottom: 713, plotLeft: BOT_L, plotRight: BOT_R, plotTop: 542, plotBottom: 710, axisH: 0,
    xMin: BOT_XMIN, xMax: BOT_XMAX, yMin: -0.547, yMax: 0.612, yTicks: ticks6,
    decor: { dotX: bottomDotX, dotY: dots6, minor: minor6, cursor: cursorBottom, cursorStart: 3 },
    datasets: [
      { data: trace6Wide.map(([x, hi]) => ({ x, y: hi })), borderColor: NOISE_GREEN, backgroundColor: NOISE_GREEN, borderWidth: 1, fill: '+1', stepped: 'middle' },
      { data: trace6Wide.map(([x, , lo]) => ({ x, y: lo })), borderColor: NOISE_GREEN, borderWidth: 1, fill: false, stepped: 'middle' },
    ],
  },
  {
    canvasTop: 713, canvasBottom: 880, plotLeft: BOT_L, plotRight: BOT_R, plotTop: 716, plotBottom: 877, axisH: 0,
    xMin: BOT_XMIN, xMax: BOT_XMAX, yMin: -0.177, yMax: 0.158, yTicks: ticks7,
    decor: { dotX: bottomDotX, dotY: dots7, minor: minor7, cursor: cursorBottom, cursorStart: 0 },
    datasets: [{ data: spikeLine(trace7Spikes, BOT_XMIN, BOT_XMAX), borderColor: GREEN, borderWidth: 1.4, fill: false }],
  },
  {
    canvasTop: 880, canvasBottom: 1039, plotLeft: BOT_L, plotRight: BOT_R, plotTop: 883, plotBottom: 995, axisH: 40,
    xMin: BOT_XMIN, xMax: BOT_XMAX, yMin: -1.438, yMax: 0.228, yTicks: ticks8, xTicks: bottomXTicks, hiddenX: bottomHiddenLabels,
    decor: { dotX: bottomDotX, dotY: dots8, minor: minor8, cursor: cursorBottom, cursorStart: 0, cursorEnd: 155, axisTicks: bottomXTicks, box: true },
    datasets: [{ data: pts(trace8Wide), borderColor: BLUE, borderWidth: 2, fill: false }],
  },
];

const abs = (l: number, t: number, w: number, h: number, extra: React.CSSProperties = {}): React.CSSProperties => ({
  position: 'absolute', left: l, top: t, width: w, height: h, boxSizing: 'border-box', ...extra,
});
const Bar = ({ l, t, w }: { l: number; t: number; w: number }) => (
  <div style={abs(l, t, w, 6, { background: '#9c9c9c', borderTop: '2px solid #151515', borderBottom: '1.5px solid #151515' })} />
);
const Big = ({ x, y, s, text }: { x: number; y: number; s: number; text: string }) => (
  <div
    style={{
      position: 'absolute', left: x, top: y, fontFamily: '"Liberation Sans", Arial, sans-serif', fontSize: s, lineHeight: 1,
      color: '#000', transform: 'translate(-50%, -50%) scaleX(0.85)', whiteSpace: 'nowrap',
    }}
  >
    {text}
  </div>
);

export default function App() {
  return (
    <div style={{ position: 'absolute', left: 0, top: 0, width: W, height: 1039, background: '#fff', overflow: 'hidden' }}>
      {panels.map((p, i) => (
        <Panel key={i} def={p} />
      ))}

      <Bar l={53} t={38} w={825} />
      <Bar l={53} t={210} w={825} />
      <Bar l={53} t={380} w={825} />
      <div style={abs(10, 497, 868, 1.5, { background: '#111' })} />
      <div style={abs(53, 535, 825, 2, { background: '#111' })} />
      <div style={abs(53, 38, 4, 500, { background: '#000' })} />
      <div style={abs(876, 38, 1.5, 499, { background: '#222' })} />

      <Bar l={65} t={537} w={826} />
      <Bar l={65} t={710} w={826} />
      <Bar l={65} t={877} w={826} />
      <div style={abs(10, 995, 881, 1.5, { background: '#111' })} />
      <div style={abs(65, 537, 4, 464, { background: '#000' })} />
      <div style={abs(888, 540, 1.5, 456, { background: '#222' })} />
      <div style={abs(890.5, 592, 2.5, 25, { background: '#222' })} />

      <div
        style={abs(372, 9, 236, 36, {
          background: '#efefef', borderLeft: '1px dotted #9a9a9a', borderTop: '1px solid #dcdcdc', borderBottom: '3px solid #5f5fb8',
        })}
      >
        <span
          style={{
            position: 'absolute', left: 10, top: 3, fontFamily: '"Liberation Sans", Arial, sans-serif', fontWeight: 'bold',
            fontSize: 24, lineHeight: 1, color: '#111', whiteSpace: 'nowrap', letterSpacing: -0.2,
          }}
        >
          02.06.97 Sungurov
        </span>
        <div
          style={abs(226, 3, 8, 25, {
            background: 'repeating-linear-gradient(to bottom, #8a8a8a 0px, #8a8a8a 1px, #e4e4e4 1px, #e4e4e4 3px)',
          })}
        />
      </div>
      <div style={abs(603, 49, 5, 2.5, { background: '#f0a040' })} />

      <Big x={915} y={104} s={44} text="6" />
      <Big x={916} y={319} s={44} text="7" />
      <Big x={915} y={458} s={42} text="8" />
      <Big x={926} y={611} s={43} text="6" />
      <Big x={931} y={792} s={43} text="7" />
      <Big x={922} y={912} s={38} text="8" />
    </div>
  );
}
